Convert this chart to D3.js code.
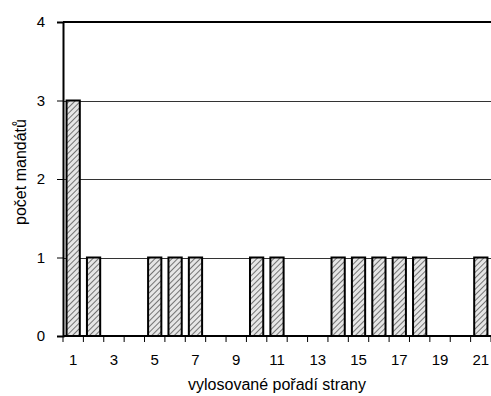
<!DOCTYPE html>
<html><head><meta charset="utf-8">
<script src="https://cdn.jsdelivr.net/npm/d3@7"></script>
<style>body{margin:0;background:#fff}svg{display:block}text{font-family:"Liberation Sans",Arial,sans-serif}</style>
</head><body>
<script>
const categories = d3.range(1, 22);
const values = [3,1,0,0,1,1,1,0,0,1,1,0,0,1,1,1,1,1,0,0,1];
const tickLabels = [1,3,5,7,9,11,13,15,17,19,21];
const yTicks = [0,1,2,3,4];

const W = 491, H = 396;
const m = {left: 63, right: 0, top: 22, bottom: 60};
const svg = d3.select("body").append("svg").attr("width", W).attr("height", H);

const x = d3.scaleBand().domain(categories).range([m.left, W - m.right]).paddingInner(0.35).paddingOuter(0.175);
const xb = d3.scaleBand().domain(categories).range([m.left, W - m.right]);
const y = d3.scaleLinear().domain([0, 4]).range([H - m.bottom, m.top]);

const defs = svg.append("defs");
const pat = defs.append("pattern").attr("id", "hatch").attr("patternUnits", "userSpaceOnUse")
  .attr("width", 4).attr("height", 4).attr("patternTransform", "rotate(45)");
pat.append("rect").attr("width", 4).attr("height", 4).attr("fill", "#e6e6e6");
pat.append("line").attr("x1", 0).attr("y1", 0).attr("x2", 0).attr("y2", 4).attr("stroke", "#555").attr("stroke-width", 1.6);

// gridlines
svg.append("g").selectAll("line").data([1,2,3]).join("line")
  .attr("x1", m.left).attr("x2", W).attr("y1", d => Math.round(y(d)) + 0.5).attr("y2", d => Math.round(y(d)) + 0.5)
  .attr("stroke", "#333").attr("stroke-width", 1);
svg.append("line").attr("x1", m.left).attr("x2", W).attr("y1", y(4)).attr("y2", y(4)).attr("stroke", "#000").attr("stroke-width", 2);

// bars
svg.append("g").selectAll("rect").data(values.map((v, i) => ({c: categories[i], v})).filter(d => d.v > 0)).join("rect")
  .attr("x", d => x(d.c)).attr("width", x.bandwidth())
  .attr("y", d => y(d.v)).attr("height", d => y(0) - y(d.v))
  .attr("fill", "url(#hatch)").attr("stroke", "#000").attr("stroke-width", 2);

// y axis
const ya = svg.append("g").attr("transform", `translate(${m.left},0)`)
  .call(d3.axisLeft(y).tickValues(yTicks).tickFormat(d3.format("d")).tickSize(6).tickPadding(12));
ya.select(".domain").attr("stroke-width", 2);
ya.selectAll("text").attr("font-size", 15).attr("fill", "#000");

// x axis
const xg = svg.append("g").attr("transform", `translate(0,${y(0)})`);
xg.append("line").attr("x1", m.left).attr("x2", W).attr("stroke", "#000").attr("stroke-width", 2);
xg.selectAll("line.tk").data(d3.range(0, 22)).join("line").attr("class", "tk")
  .attr("x1", i => m.left + i * xb.step()).attr("x2", i => m.left + i * xb.step())
  .attr("y1", 0).attr("y2", 6).attr("stroke", "#000");
xg.selectAll("text").data(tickLabels).join("text")
  .attr("x", d => xb(d) + xb.bandwidth() / 2).attr("y", 29)
  .attr("text-anchor", "middle").attr("font-size", 15).text(d => d);

svg.append("text").attr("x", 277).attr("y", 390).attr("text-anchor", "middle").attr("font-size", 16).text("vylosované pořadí strany");
svg.append("text").attr("transform", "translate(26,172) rotate(-90)").attr("text-anchor", "middle").attr("font-size", 16).text("počet mandátů");
</script>
</body></html>
